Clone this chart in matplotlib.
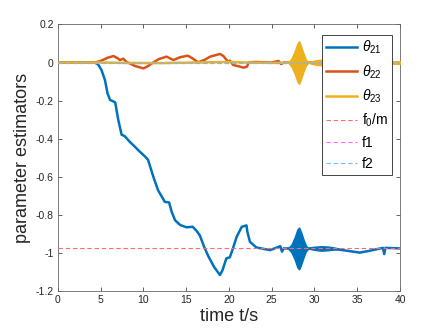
import numpy as np
import matplotlib
matplotlib.use("Agg")
import matplotlib.pyplot as plt

plt.rcParams['font.family'] = ['Liberation Sans', 'DejaVu Sans']
plt.rcParams['axes.unicode_minus'] = False
plt.rcParams['mathtext.fontset'] = 'custom'
plt.rcParams['mathtext.it'] = 'Liberation Sans:italic'
plt.rcParams['mathtext.rm'] = 'Liberation Sans'

# ---- data ----
t21 = [0, 4.3, 4.7, 5.1, 5.5, 5.8, 6.1, 6.5, 6.7, 7.05, 7.45, 7.8, 8.4, 9.0, 9.6,
       10.2, 10.55, 11.15, 11.7, 12.5, 13.0, 13.3, 13.7, 14.3, 15.05, 15.75, 16.2,
       16.6, 17.1, 17.6, 18.25, 18.95, 19.25, 19.7, 20.1, 20.4, 20.9, 21.5, 22.05,
       22.15, 22.45, 23.2, 24.8, 25.8, 26.0, 26.2, 26.4, 26.9, 29.4, 30.0, 31.0,
       33.0, 35.3, 36.5, 38.0, 38.15, 38.3, 40]
v21 = [0, 0, -0.01, -0.04, -0.092, -0.162, -0.197, -0.205, -0.21, -0.30, -0.38,
       -0.387, -0.417, -0.443, -0.47, -0.495, -0.513, -0.60, -0.671, -0.733, -0.736,
       -0.785, -0.83, -0.855, -0.867, -0.864, -0.885, -0.91, -0.97, -1.02, -1.075,
       -1.118, -1.092, -1.03, -1.025, -0.987, -0.917, -0.864, -0.857, -0.89, -0.943,
       -0.973, -0.987, -0.97, -0.966, -0.995, -0.978, -0.978, -0.978, -0.975,
       -0.978, -0.985, -1.0, -0.99, -0.975, -1.008, -0.975, -0.978]

t22 = [0, 4.3, 5.0, 5.8, 6.5, 7.0, 7.25, 7.65, 8.0, 9.0, 10.0, 10.5, 11.0, 11.8,
       12.7, 13.5, 14.3, 15.2, 15.8, 16.4, 17.2, 17.8, 18.95, 19.35, 19.9, 20.1,
       20.5, 21.3, 21.7, 22.1, 22.3, 23.0, 25.0, 25.8, 26.1, 26.4, 40]
v22 = [0, 0, 0.008, 0.025, 0.034, 0.022, 0.013, 0.02, 0.004, -0.018, -0.031,
       -0.02, -0.004, 0.018, 0.031, 0.013, 0.028, 0.036, 0.02, 0.001, 0.015, 0.031,
       0.045, 0.034, 0.004, 0.01, -0.013, -0.022, -0.027, -0.022, 0.0, 0.003, 0.0,
       0.008, -0.008, 0.0, 0.0]

t23 = [0, 5, 8, 12, 16, 20, 22, 25, 30, 35, 40]
v23 = [0, 0, -0.002, -0.003, 0.0, 0.003, 0.0, -0.002, 0.0, 0.0, 0.0]

# oscillation envelopes (half-width about the base value)
osc_t = [26.9, 27.3, 27.7, 28.0, 28.2, 28.4, 28.7, 29.0, 29.3, 29.6, 30.2, 30.8,
         31.5, 32.2, 32.8]
osc21 = [0.0, 0.02, 0.06, 0.10, 0.11, 0.09, 0.05, 0.015, 0.0, 0.004, 0.009, 0.012,
         0.01, 0.006, 0.0]
osc23 = [0.0, 0.02, 0.06, 0.10, 0.112, 0.09, 0.05, 0.015, 0.0, 0.006, 0.012, 0.015,
         0.012, 0.007, 0.0]
base21 = -0.978
base23 = 0.0
tail_t = [38.4, 38.8, 39.4, 40.0]
tail23 = [0.0, 0.006, 0.007, 0.007]

f0m = -0.978
f1 = 0.0
f2 = 0.0

xticks = [0, 5, 10, 15, 20, 25, 30, 35, 40]
yticks = [-1.2, -1.0, -0.8, -0.6, -0.4, -0.2, 0.0, 0.2]
ylabels = ['-1.2', '-1', '-0.8', '-0.6', '-0.4', '-0.2', '0', '0.2']

c_blue = '#0072BD'
c_orange = '#D95319'
c_yellow = '#EDB120'
tc = '#262626'

fig = plt.figure(figsize=(4.42, 3.31), dpi=100)
ax = fig.add_axes([0.131, 0.122, 0.774, 0.804])

lw = 1.8
ax.plot(t21, v21, color=c_blue, lw=lw, label=r'$\theta_{21}$', zorder=3,
        solid_joinstyle='round')
ax.fill_between(osc_t, np.array(osc21) * -1 + base21, np.array(osc21) + base21,
                color=c_blue, lw=1.0, zorder=3)
ax.plot(t22, v22, color=c_orange, lw=lw, label=r'$\theta_{22}$', zorder=3,
        solid_joinstyle='round')
ax.plot(t23, v23, color=c_yellow, lw=lw, label=r'$\theta_{23}$', zorder=3)
ax.fill_between(osc_t, np.array(osc23) * -1 + base23, np.array(osc23) + base23,
                color=c_yellow, lw=1.0, zorder=3)
ax.fill_between(tail_t, np.array(tail23) * -1 + base23, np.array(tail23) + base23,
                color=c_yellow, lw=1.0, zorder=3)

ax.axhline(f0m, color='#ff6b6b', lw=0.8, ls=(0, (4, 2.5)), label='f$_0$/m', zorder=4)
ax.axhline(f1, color='#ff6bff', lw=0.8, ls=(0, (4, 2.5)), label='f1', zorder=4)
ax.axhline(f2, color='#6bbfff', lw=0.8, ls=(0, (4, 2.5)), label='f2', zorder=4)

ax.set_xlim(0, 40)
ax.set_ylim(-1.2, 0.2)
ax.set_xticks(xticks)
ax.set_xticklabels([str(x) for x in xticks])
ax.set_yticks(yticks)
ax.set_yticklabels(ylabels)
ax.tick_params(direction='in', length=3, width=0.5, colors=tc, labelsize=7.5,
               top=True, right=True, pad=3)
for s in ax.spines.values():
    s.set_color('#666666')
    s.set_linewidth(0.6)

ax.set_xlabel('time t/s', fontsize=13, color=tc, labelpad=2)
ax.set_ylabel('parameter estimators', fontsize=13, color=tc, labelpad=3)

leg = ax.legend(loc='upper right', bbox_to_anchor=(0.977, 0.962), fontsize=10,
                frameon=True, fancybox=False, framealpha=1, edgecolor='#262626',
                handlelength=2.2, handletextpad=0.35, labelspacing=0.5,
                borderpad=0.3, borderaxespad=0)
leg.get_frame().set_linewidth(0.6)

fig.savefig('out.png', dpi=100)
